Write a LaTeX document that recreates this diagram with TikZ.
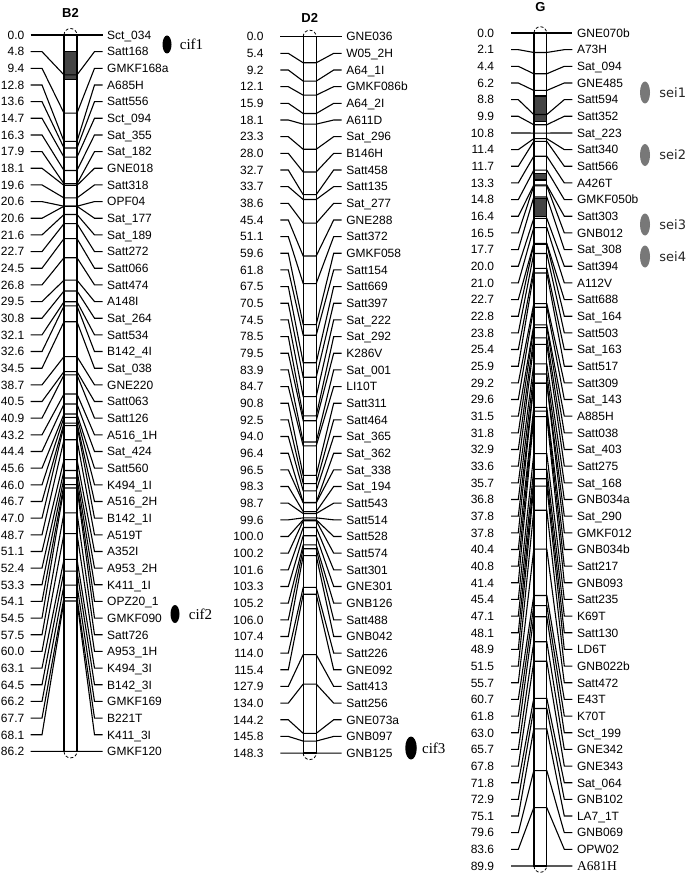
\documentclass[tikz,border=0pt]{standalone}
\usepackage{fontspec}
\setmainfont{Liberation Serif}
\setsansfont{Liberation Sans}
\newfontfamily\seifont{DejaVu Sans}
\usepackage{tikz}
\usetikzlibrary{shapes.geometric,positioning,calc}
\definecolor{qtlgray}{RGB}{68,68,68}
\definecolor{seigray}{RGB}{120,120,120}

\tikzset{
  cmlabel/.style={anchor=east, inner sep=0pt, text height=8.6pt, text depth=0pt, font=\sffamily\fontsize{12}{14}\selectfont},
  mklabel/.style={anchor=west, inner sep=0pt, text height=8.6pt, text depth=0pt, font=\sffamily\fontsize{12}{14}\selectfont},
  link/.style={line width=1.1pt},
  chrom/.style={draw, line width=1.4pt, fill=white},
  barend/.style={line width=0.8pt, densely dashed},
  qtl/.style={fill=qtlgray, draw=black, line width=1.4pt},
  lgname/.style={font=\sffamily\bfseries\fontsize{13}{15}\selectfont},
  cifdot/.style={ellipse, fill=black, inner sep=0pt, minimum width=9pt, minimum height=18pt},
  seidot/.style={ellipse, fill=seigray, inner sep=0pt, minimum width=10pt, minimum height=22pt},
  ciftext/.style={font=\rmfamily\fontsize{15}{17}\selectfont, inner sep=0pt},
  seitext/.style={font=\seifont\fontsize{13}{15}\selectfont, inner sep=0pt, text=black!85},
}

% #1 group, #2 bar centre, #3 top, #4 px per cM, #5 gap after number, #6 left bend, #7 markers
\newcommand{\linkmap}[7]{%
  \foreach \pos/\mkr [count=\i] in {#7} {
    \pgfmathsetmacro{\ly}{#3+(\i-1)*16.66}
    \pgfmathsetmacro{\my}{#3+\pos*#4}
    \node[cmlabel] (#1-cm\i) at (#2-46,\ly) {\pos};
    \node[mklabel] (#1-mk\i) at (#2+36.5,\ly) {\mkr};
    \coordinate (#1-l\i) at (#2-6.5,\my);
    \coordinate (#1-r\i) at (#2+6.5,\my);
    \draw[link] ([xshift=#5]#1-cm\i.east) -- (#2-#6,\ly) -- (#1-l\i)
      -- (#1-r\i) -- (#2+24,\ly) -- ([xshift=-4.5pt]#1-mk\i.west);
  }
}

\begin{document}
\begin{tikzpicture}[x=1pt, y=-1pt]
    \useasboundingbox[fill=white] (0,0) rectangle (697,880);

    % B2
    \node[lgname] (b2name) at (70.5,12.5) {B2};
    \draw[chrom] (64,35) rectangle (77,751.4);
    \draw[barend] (64,35) arc (180:360:6.5);
    \draw[barend] (64,751.4) arc (180:0:6.5);
    \filldraw[qtl] (64,51.7) rectangle (77,79.3);
    \linkmap{b2}{70.5}{35}{8.311}{6pt}{28.5}{0.0/Sct\_034, 4.8/Satt168, 9.4/GMKF168a, 12.8/A685H, 13.6/Satt556, 14.7/Sct\_094, 16.3/Sat\_355, 17.9/Sat\_182, 18.1/GNE018, 19.6/Satt318, 20.6/OPF04, 20.6/Sat\_177, 21.6/Sat\_189, 22.7/Satt272, 24.5/Satt066, 26.8/Satt474, 29.5/A148I, 30.8/Sat\_264, 32.1/Satt534, 32.6/B142\_4I, 34.5/Sat\_038, 38.7/GNE220, 40.5/Satt063, 40.9/Satt126, 43.2/A516\_1H, 44.4/Sat\_424, 45.6/Satt560, 46.0/K494\_1I, 46.7/A516\_2H, 47.0/B142\_1I, 48.7/A519T, 51.1/A352I, 52.4/A953\_2H, 53.3/K411\_1I, 54.1/OPZ20\_1, 54.5/GMKF090, 57.5/Satt726, 60.0/A953\_1H, 63.1/K494\_3I, 64.5/B142\_3I, 66.2/GMKF169, 67.7/B221T, 68.1/K411\_3I, 86.2/GMKF120}

    % D2
    \node[lgname] (d2name) at (309.7,17.5) {D2};
    \draw[chrom] (303.2,36.7) rectangle (316.2,753.1);
    \draw[barend] (303.2,36.7) arc (180:360:6.5);
    \draw[barend] (303.2,753.1) arc (180:0:6.5);
    \linkmap{d2}{309.7}{36.7}{4.831}{16.7pt}{21.4}{0.0/GNE036, 5.4/W05\_2H, 9.2/A64\_1I, 12.1/GMKF086b, 15.9/A64\_2I, 18.1/A611D, 23.3/Sat\_296, 28.0/B146H, 32.7/Satt458, 33.7/Satt135, 38.6/Sat\_277, 45.4/GNE288, 51.1/Satt372, 59.6/GMKF058, 61.8/Satt154, 67.5/Satt669, 70.5/Satt397, 74.5/Sat\_222, 78.5/Sat\_292, 79.5/K286V, 83.9/Sat\_001, 84.7/LI10T, 90.8/Satt311, 92.5/Satt464, 94.0/Sat\_365, 96.4/Sat\_362, 96.5/Sat\_338, 98.3/Sat\_194, 98.7/Satt543, 99.6/Satt514, 100.0/Satt528, 100.2/Satt574, 101.6/Satt301, 103.3/GNE301, 105.2/GNB126, 106.0/Satt488, 107.4/GNB042, 114.0/Satt226, 115.4/GNE092, 127.9/Satt413, 134.0/Satt256, 144.2/GNE073a, 145.8/GNB097, 148.3/GNB125}

    % G
    \node[lgname] (gname) at (540.3,7.5) {G};
    \draw[chrom] (534,33) rectangle (546.6,866);
    \draw[barend] (534,33) arc (180:360:6.3);
    \draw[barend] (534,866) arc (180:0:6.3);
    \filldraw[qtl] (534,96) rectangle (546.6,121.7);
    \filldraw[qtl] (534,173.3) rectangle (546.6,180);
    \filldraw[qtl] (534,198.3) rectangle (546.6,216.7);
    \linkmap{g}{540.3}{33}{9.266}{16.7pt}{22}{0.0/GNE070b, 2.1/A73H, 4.4/Sat\_094, 6.2/GNE485, 8.8/Satt594, 9.9/Satt352, 10.8/Sat\_223, 11.4/Satt340, 11.7/Satt566, 13.3/A426T, 14.8/GMKF050b, 16.4/Satt303, 16.5/GNB012, 17.7/Sat\_308, 20.0/Satt394, 21.0/A112V, 22.7/Satt688, 22.8/Sat\_164, 23.8/Satt503, 25.4/Sat\_163, 25.9/Satt517, 29.2/Satt309, 29.6/Sat\_143, 31.5/A885H, 31.8/Satt038, 32.9/Sat\_403, 33.6/Satt275, 35.7/Sat\_168, 36.8/GNB034a, 37.8/Sat\_290, 37.8/GMKF012, 40.4/GNB034b, 40.8/Satt217, 41.4/GNB093, 45.4/Satt235, 47.1/K69T, 48.1/Satt130, 48.9/LD6T, 51.5/GNB022b, 55.7/Satt472, 60.7/E43T, 61.8/K70T, 63.0/Sct\_199, 65.7/GNE342, 67.8/GNE343, 71.8/Sat\_064, 72.9/GNB102, 75.1/LA7\_1T, 79.6/GNB069, 83.6/OPW02, 89.9/{\rmfamily\fontsize{13.5}{15}\selectfont A681H}}

    % QTL marks
    \node[cifdot] (cifdot1) at (167,44.5) {};
    \node[ciftext, right=8pt of cifdot1] (cif1) {cif1};
    \node[cifdot] (cifdot2) at (175,614) {};
    \node[ciftext, right=9pt of cifdot2] (cif2) {cif2};
    \node[cifdot, minimum width=11.5pt, minimum height=23pt] (cifdot3) at (411,748) {};
    \node[ciftext, right=5pt of cifdot3] (cif3) {cif3};
    \foreach \y [count=\k] in {92.5,155,224.5,256.5} {
        \node[seidot] (seidot\k) at (645,\y) {};
        \node[seitext, right=9pt of seidot\k] (sei\k) {sei\k};
    }
\end{tikzpicture}
\end{document}
